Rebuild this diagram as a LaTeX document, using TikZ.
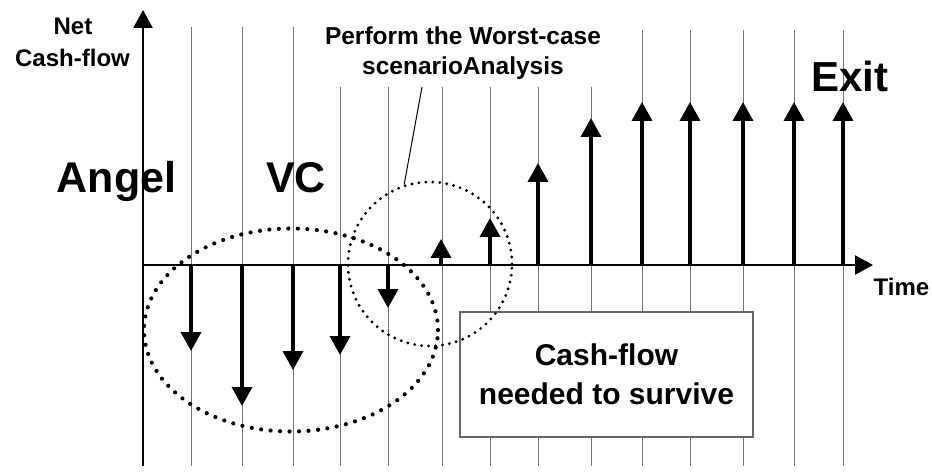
\documentclass[tikz,border=0pt]{standalone}
\usepackage{fontspec}
\setmainfont{Liberation Sans}
\usetikzlibrary{arrows.meta,shapes.geometric}
\begin{document}
\begin{tikzpicture}[x=1pt,y=-1pt,
  grid/.style={draw=black!55, line width=0.7pt},
  axis/.style={line width=2.6pt, -{Triangle[width=19pt,length=18pt]}},
  flow/.style={line width=3.6pt, -{Triangle[width=20pt,length=19pt]}},
  lbl/.style={font=\bfseries\fontsize{24}{29}\selectfont, inner sep=0pt, anchor=base},
  big/.style={font=\bfseries\fontsize{43}{50}\selectfont, inner sep=0pt, anchor=base},
  dots/.style={dash pattern=on 0pt off #1, line cap=round},
]
\useasboundingbox (0,0) rectangle (932,473);

% period grid
\foreach \x/\t in {191/27,242/27,293/27,340/87,388/87,442/87,490/87,538/87,591/87,642/30,690/30,743/30,794/30,843/30}
  \draw[grid] (\x,\t) -- (\x,466);

% dotted groupings
\node[ellipse, draw, line width=4.2pt, dots=9.5pt, minimum width=294pt, minimum height=203pt, inner sep=0pt] (early) at (291,330) {};

% axes
\coordinate (O) at (143,265);
\coordinate (ytop) at (143,10);
\coordinate (ybot) at (143,466);
\coordinate (xend) at (873,265);
\draw[axis] (ybot) -- (ytop);
\draw[axis] (O) -- (xend);

% cash flows per period
\foreach \x/\y [count=\i] in {191/351,242/406,293/370,340/355,388/308,441/239,490/218,538/163,591/118,642/102,690/102,743/102,794/102,843/102} {
  \coordinate (b\i) at (\x,265);
  \coordinate (t\i) at (\x,\y);
  \draw[flow] (b\i) -- (t\i);
}

% survival box
\node[draw=black!60, fill=white, line width=1.3pt, minimum width=293pt, minimum height=125pt, inner sep=0pt, align=center, font=\bfseries\fontsize{30}{39}\selectfont] (need) at (606.5,374.5) {Cash-flow\\needed to survive};

\node[circle, draw, line width=3.2pt, dots=7pt, minimum size=164pt, inner sep=0pt] (worst) at (430,264) {};

% labels
\node[lbl] (net) at (73,35) {Net};
\node[lbl] (cf) at (72.5,67) {Cash-flow};
\node[big] (angel) at (116.5,193) {Angel};
\node[big] (vc) at (296,193) {VC};
\node[font=\bfseries\fontsize{42}{50}\selectfont, inner sep=0pt, anchor=base] (exit) at (850,92) {Exit};
\node[lbl] (time) at (901.5,295) {Time};
\node[lbl, font=\bfseries\fontsize{24.5}{30}\selectfont] (perf) at (463,45) {Perform the Worst-case};
\node[lbl, font=\bfseries\fontsize{24.5}{30}\selectfont] (perf2) at (463,75) {scenarioAnalysis};

\coordinate (ptr) at (422,87);
\draw[line width=1pt] (ptr) -- (worst.108);
\end{tikzpicture}
\end{document}
